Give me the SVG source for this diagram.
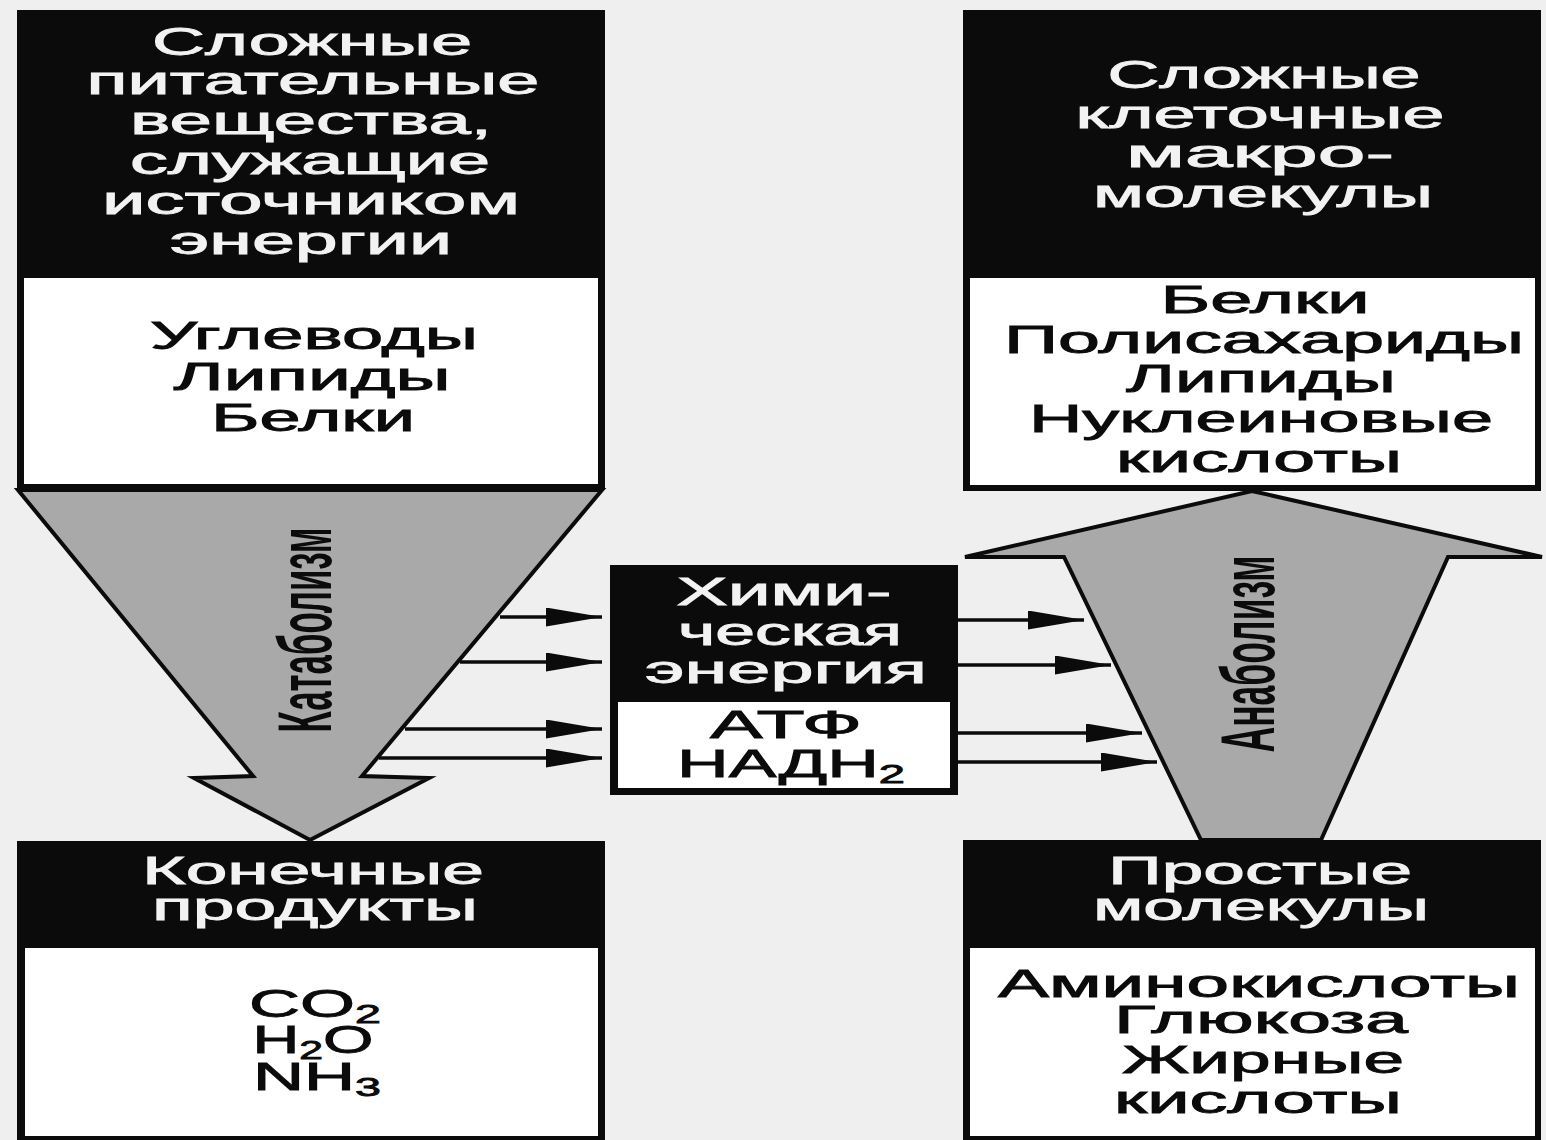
<svg xmlns="http://www.w3.org/2000/svg" width="1546" height="1140" viewBox="0 0 1546 1140">
  <defs>
    <style>
      .ink { fill: #0b0b0b; }
      .paper { fill: #ffffff; }
      .flow { fill: #a9a9a9; stroke: #0b0b0b; stroke-width: 4; stroke-linejoin: miter; }
      .conn { stroke: #0b0b0b; stroke-width: 3.5; fill: none; marker-end: url(#head); }
      text { font-family: "Liberation Sans", Arial, sans-serif; text-anchor: middle; }
      .ht { font-size: 38px; fill: #f2f2f2; stroke: #f2f2f2; stroke-width: 0.85px; }
      .bt { font-size: 38px; fill: #0b0b0b; stroke: #0b0b0b; stroke-width: 0.85px; }
      .vt { font-size: 76px; font-weight: bold; fill: #0b0b0b; }
      .sub { font-size: 25px; }
    </style>
    <marker id="head" markerUnits="userSpaceOnUse" markerWidth="58" markerHeight="20" refX="56" refY="9.5" orient="auto">
      <path d="M0,0 L56,9.5 L0,19 Z" fill="#0b0b0b"/>
    </marker>
  </defs>

  <rect width="1546" height="1140" fill="#efefef"/>

  <!-- big process arrows -->
  <g id="catabolism">
    <polygon class="flow" points="18,490 602,490 362,776 429,778 310,840 194,778 253,776"/>
    <text class="vt" transform="translate(331,630) rotate(-90)" textLength="205" lengthAdjust="spacingAndGlyphs">Катаболизм</text>
  </g>
  <g id="anabolism">
    <polygon class="flow" points="1252,491 1542,557 1448,557 1321,840 1201,840 1064,557 965,557"/>
    <text class="vt" transform="translate(1274,654) rotate(-90)" textLength="197" lengthAdjust="spacingAndGlyphs">Анаболизм</text>
  </g>

  <!-- energy transfer connectors -->
  <g id="connectors">
    <line class="conn" x1="500" y1="617" x2="602" y2="617"/>
    <line class="conn" x1="460" y1="662" x2="602" y2="662"/>
    <line class="conn" x1="405" y1="729" x2="602" y2="729"/>
    <line class="conn" x1="379" y1="758" x2="602" y2="758"/>
    <line class="conn" x1="958" y1="620" x2="1084" y2="620"/>
    <line class="conn" x1="958" y1="665" x2="1111" y2="665"/>
    <line class="conn" x1="958" y1="733" x2="1142" y2="733"/>
    <line class="conn" x1="958" y1="762" x2="1157" y2="762"/>
  </g>

  <!-- nutrients -->
  <g id="nutrients">
    <rect class="ink" x="17" y="10" width="588" height="480"/>
    <rect class="paper" x="24" y="278" width="574" height="206"/>
    <text class="ht" x="312" y="55" textLength="320" lengthAdjust="spacingAndGlyphs">Сложные</text>
    <text class="ht" x="313" y="94" textLength="453" lengthAdjust="spacingAndGlyphs">питательные</text>
    <text class="ht" x="311" y="134" textLength="362" lengthAdjust="spacingAndGlyphs">вещества,</text>
    <text class="ht" x="310" y="174" textLength="360" lengthAdjust="spacingAndGlyphs">служащие</text>
    <text class="ht" x="311" y="214" textLength="418" lengthAdjust="spacingAndGlyphs">источником</text>
    <text class="ht" x="311" y="254" textLength="282" lengthAdjust="spacingAndGlyphs">энергии</text>
    <text class="bt" x="314" y="349" textLength="328" lengthAdjust="spacingAndGlyphs">Углеводы</text>
    <text class="bt" x="312" y="390" textLength="277" lengthAdjust="spacingAndGlyphs">Липиды</text>
    <text class="bt" x="313" y="431" textLength="204" lengthAdjust="spacingAndGlyphs">Белки</text>
  </g>

  <!-- macromolecules -->
  <g id="macromolecules">
    <rect class="ink" x="963" y="10" width="578" height="481"/>
    <rect class="paper" x="970" y="278" width="565" height="207"/>
    <text class="ht" x="1264" y="88" textLength="313" lengthAdjust="spacingAndGlyphs">Сложные</text>
    <text class="ht" x="1260" y="128" textLength="369" lengthAdjust="spacingAndGlyphs">клеточные</text>
    <text class="ht" x="1260" y="167" textLength="268" lengthAdjust="spacingAndGlyphs">макро-</text>
    <text class="ht" x="1263" y="207" textLength="340" lengthAdjust="spacingAndGlyphs">молекулы</text>
    <text class="bt" x="1265" y="313" textLength="209" lengthAdjust="spacingAndGlyphs">Белки</text>
    <text class="bt" x="1264" y="353" textLength="520" lengthAdjust="spacingAndGlyphs">Полисахариды</text>
    <text class="bt" x="1261" y="392" textLength="270" lengthAdjust="spacingAndGlyphs">Липиды</text>
    <text class="bt" x="1261" y="432" textLength="464" lengthAdjust="spacingAndGlyphs">Нуклеиновые</text>
    <text class="bt" x="1259" y="472" textLength="286" lengthAdjust="spacingAndGlyphs">кислоты</text>
  </g>

  <!-- chemical energy -->
  <g id="energy">
    <rect class="ink" x="610" y="565" width="348" height="230"/>
    <rect class="paper" x="618" y="702" width="332" height="86"/>
    <text class="ht" x="784" y="605" textLength="215" lengthAdjust="spacingAndGlyphs">Хими-</text>
    <text class="ht" x="790" y="645" textLength="224" lengthAdjust="spacingAndGlyphs">ческая</text>
    <text class="ht" x="786" y="683" textLength="282" lengthAdjust="spacingAndGlyphs">энергия</text>
    <text class="bt" x="786" y="738" textLength="152" lengthAdjust="spacingAndGlyphs">АТФ</text>
    <text class="bt" x="791" y="777" textLength="228" lengthAdjust="spacingAndGlyphs">НАДН<tspan class="sub" dy="6">2</tspan></text>
  </g>

  <!-- end products -->
  <g id="end-products">
    <rect class="ink" x="17" y="841" width="588" height="299"/>
    <rect class="paper" x="25" y="948" width="573" height="188"/>
    <text class="ht" x="313" y="884" textLength="342" lengthAdjust="spacingAndGlyphs">Конечные</text>
    <text class="ht" x="315" y="920" textLength="326" lengthAdjust="spacingAndGlyphs">продукты</text>
    <text class="bt" x="315" y="1017" textLength="132" lengthAdjust="spacingAndGlyphs">CO<tspan class="sub" dy="6">2</tspan></text>
    <text class="bt" x="313" y="1053" textLength="121" lengthAdjust="spacingAndGlyphs">H<tspan class="sub" dy="6">2</tspan><tspan dy="-6">O</tspan></text>
    <text class="bt" x="317" y="1090" textLength="128" lengthAdjust="spacingAndGlyphs">NH<tspan class="sub" dy="6">3</tspan></text>
  </g>

  <!-- simple molecules -->
  <g id="simple-molecules">
    <rect class="ink" x="963" y="840" width="578" height="300"/>
    <rect class="paper" x="970" y="948" width="565" height="188"/>
    <text class="ht" x="1260" y="884" textLength="304" lengthAdjust="spacingAndGlyphs">Простые</text>
    <text class="ht" x="1261" y="920" textLength="336" lengthAdjust="spacingAndGlyphs">молекулы</text>
    <text class="bt" x="1259" y="997" textLength="522" lengthAdjust="spacingAndGlyphs">Аминокислоты</text>
    <text class="bt" x="1261" y="1033" textLength="294" lengthAdjust="spacingAndGlyphs">Глюкоза</text>
    <text class="bt" x="1263" y="1073" textLength="282" lengthAdjust="spacingAndGlyphs">Жирные</text>
    <text class="bt" x="1258" y="1113" textLength="288" lengthAdjust="spacingAndGlyphs">кислоты</text>
  </g>
</svg>
